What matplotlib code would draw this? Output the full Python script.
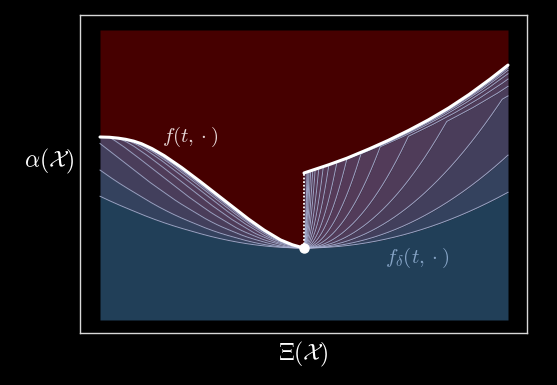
import numpy as np
import matplotlib
matplotlib.use("Agg")
import matplotlib.pyplot as plt

plt.rcParams["mathtext.fontset"] = "cm"

# f(t, .): left branch (up to the jump) and right branch
x_left = [0.00, 0.02, 0.04, 0.06, 0.08, 0.10, 0.125, 0.155, 0.196, 0.237, 0.278,
          0.32, 0.36, 0.40, 0.441, 0.47, 0.50]
y_left = [0.631, 0.6305, 0.628, 0.624, 0.618, 0.609, 0.593, 0.569, 0.530, 0.487,
          0.442, 0.396, 0.352, 0.312, 0.277, 0.260, 0.248]
x_right = [0.50, 0.55, 0.60, 0.65, 0.70, 0.75, 0.80, 0.85, 0.90, 0.95, 1.00]
y_right = [0.507, 0.530, 0.555, 0.584, 0.615, 0.649, 0.686, 0.727, 0.773, 0.824, 0.879]

# smoothing parameters of the envelopes f_delta
deltas = [0.65, 0.39, 0.23, 0.14, 0.085, 0.05, 0.03, 0.018, 0.011, 0.0065,
          0.004, 0.0024, 0.0014, 0.00085, 0.0005, 0.0003, 0.00018, 0.0001]

red = "#460000"
blue = "#213f58"
band_lo = np.array([52, 66, 94]) / 255
band_hi = np.array([86, 58, 88]) / 255


def main():
    xl = np.linspace(0, 0.5, 601)
    xr = np.linspace(0.5, 1, 601)
    x = np.concatenate([xl, xr])
    fl = np.interp(xl, x_left, y_left)
    fr = np.interp(xr, x_right, y_right)
    f = np.concatenate([fl, fr])

    # Moreau envelopes
    d2 = (x[:, None] - x[None, :]) ** 2
    envs = [np.min(f[None, :] + d2 / (2 * d), axis=1) for d in deltas]

    fig = plt.figure(figsize=(5.57, 3.85), dpi=100, facecolor="black")
    ax = fig.add_axes([80 / 557, 52 / 385, 447 / 557, 318 / 385])
    ax.set_facecolor("black")

    ax.fill_between(x, f, 1, color=red, lw=0, zorder=1)
    ax.fill_between(x, 0, envs[0], color=blue, lw=0, zorder=1)
    n = len(envs)
    for k in range(n):
        upper = envs[k + 1] if k + 1 < n else f
        t = 1 - 0.6 ** k
        c = band_lo + (band_hi - band_lo) * t
        ax.fill_between(x, envs[k], upper, color=c, lw=0, zorder=2)
    for e in envs:
        ax.plot(x, e, color="#aab4d6", lw=0.7, alpha=0.85, zorder=3)

    ax.plot(xl, fl, color="white", lw=2.2, zorder=5, solid_capstyle="round")
    ax.plot(xr, fr, color="white", lw=2.2, zorder=5, solid_capstyle="round")
    ax.plot([0.5, 0.5], [y_left[-1], y_right[0]], color="white", lw=1.3,
            linestyle=(0, (1, 1)), zorder=5)
    ax.plot([0.5], [y_left[-1]], "o", color="white", ms=6.5, zorder=6)

    ax.text(0.22, 0.631, r"$f(t,\cdot)$", color="#e6d6d6", fontsize=15,
            ha="center", va="center", zorder=7)
    ax.text(0.777, 0.214, r"$f_\delta(t,\cdot)$", color="#86a4c6", fontsize=15,
            ha="center", va="center", zorder=7)

    ax.set_xlim(-20 / 408, 427 / 408)
    ax.set_ylim(-13 / 290, 305 / 290)
    ax.set_xticks([])
    ax.set_yticks([])
    for s in ax.spines.values():
        s.set_color("#d8d8d8")
        s.set_linewidth(1)

    ax.set_xlabel(r"$\Xi(\mathcal{X})$", color="white", fontsize=17)
    ax.xaxis.set_label_coords(0.499, -0.069)
    ax.xaxis.label.set_va("center")
    ax.set_ylabel(r"$\alpha(\mathcal{X})$", color="white", fontsize=17, rotation=0)
    ax.yaxis.set_label_coords(-0.069, 0.538)
    ax.yaxis.label.set_va("center")
    ax.yaxis.label.set_ha("center")

    fig.savefig("out.png", dpi=100, facecolor="black")


if __name__ == "__main__":
    main()
